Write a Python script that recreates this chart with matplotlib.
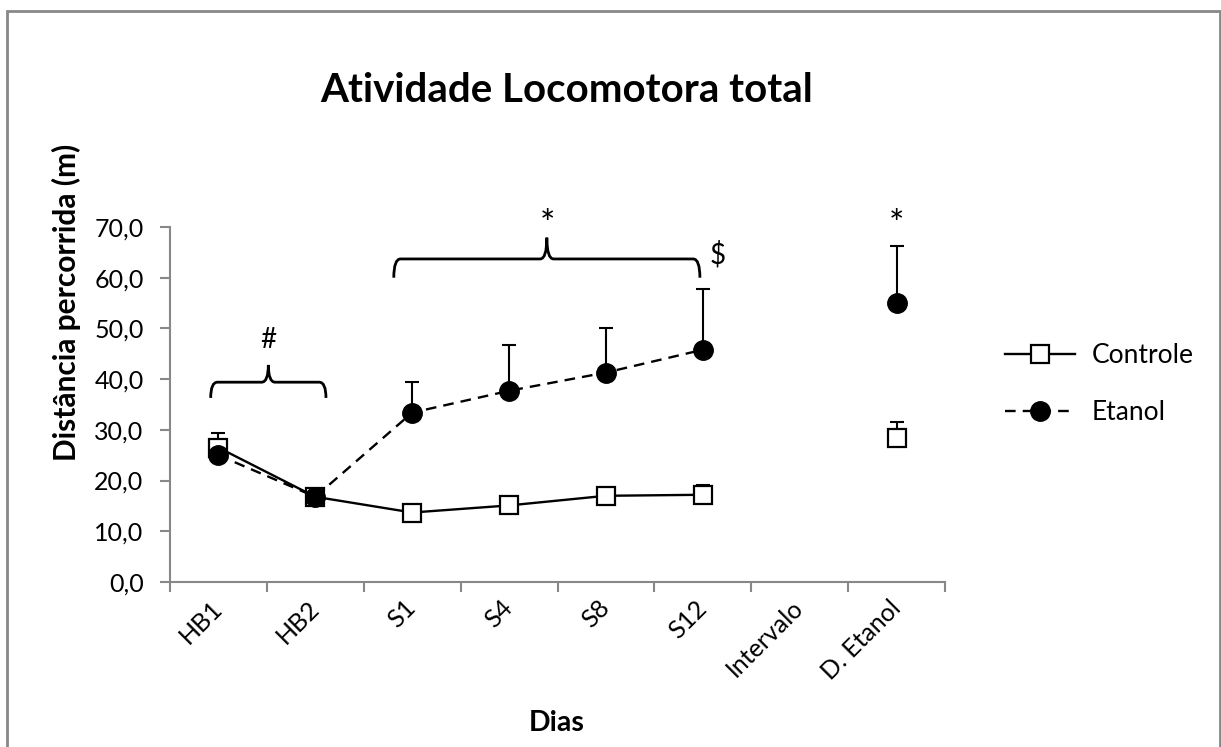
import numpy as np
import matplotlib
matplotlib.use("Agg")
import matplotlib.pyplot as plt
from matplotlib.path import Path
from matplotlib.patches import PathPatch, Rectangle
from matplotlib.lines import Line2D
from matplotlib.transforms import ScaledTranslation

plt.rcParams['font.family'] = ['Lato', 'DejaVu Sans']

categories = ["HB1", "HB2", "S1", "S4", "S8", "S12", "Intervalo", "D. Etanol"]
controle = [26.5, 16.8, 13.7, 15.1, 17.0, 17.2, np.nan, 28.3]
controle_err = [2.9, 0.0, 0.0, 0.0, 0.0, 1.9, 0.0, 3.3]
etanol = [25.0, 16.8, 33.4, 37.7, 41.3, 45.8, np.nan, 55.1]
etanol_err = [0.0, 0.0, 6.1, 9.0, 8.7, 11.9, 0.0, 11.2]
yticks = [0, 10, 20, 30, 40, 50, 60, 70]
ytick_labels = ["0,0", "10,0", "20,0", "30,0", "40,0", "50,0", "60,0", "70,0"]

W, H = 1221, 747
fig = plt.figure(figsize=(W / 100, H / 100), dpi=100)
ax = fig.add_axes([170 / W, 1 - 582 / H, (945 - 170) / W, (582 - 227) / H])

x = np.arange(len(categories))
grey = "#888888"

# error bars (upward only), drawn beneath markers
for vals, errs in ((controle, controle_err), (etanol, etanol_err)):
    v = np.array(vals, dtype=float)
    e = np.array(errs, dtype=float)
    m = (~np.isnan(v)) & (e > 0)
    ax.errorbar(x[m], v[m], yerr=[np.zeros(m.sum()), e[m]], fmt='none',
                ecolor='black', elinewidth=1.5, capsize=5, capthick=1.5, zorder=2)

ax.plot(x, controle, color='black', lw=1.7, marker='s', markersize=13.5,
        markerfacecolor='white', markeredgecolor='black', markeredgewidth=1.6, zorder=3)
ax.plot(x, etanol, color='black', lw=1.7, linestyle=(0, (4.5, 3)), marker='o', markersize=14,
        markerfacecolor='black', markeredgecolor='black', zorder=4)

ax.set_xlim(-0.5, len(categories) - 0.5)
ax.set_ylim(0, 70)
ax.set_yticks(yticks)
ax.set_yticklabels(ytick_labels, fontsize=18)
ax.set_xticks(x)
ax.set_xticklabels(categories, fontsize=18, rotation=45, ha='right', va='center',
                   rotation_mode='anchor')
offset = ScaledTranslation(11 / 100, 0, fig.dpi_scale_trans)
for lab in ax.get_xticklabels():
    lab.set_transform(lab.get_transform() + offset)
ax.set_xticks(np.arange(-0.5, len(categories)), minor=True)
ax.tick_params(axis='x', which='major', length=0, pad=16)
ax.tick_params(axis='x', which='minor', length=7, width=1.5, color=grey, direction='out')
ax.tick_params(axis='y', length=7, width=1.5, color=grey, direction='out', pad=12)
for s in ('top', 'right'):
    ax.spines[s].set_visible(False)
for s in ('left', 'bottom'):
    ax.spines[s].set_color(grey)
    ax.spines[s].set_linewidth(1.5)
ax.patch.set_alpha(0)


def brace(ax, x0, x1, yb, yf, yt, r):
    xm = (x0 + x1) / 2
    verts = [(x0, yb), (x0, yf), (x0 + r, yf),
             (xm - r, yf), (xm, yf), (xm, yt),
             (xm, yf), (xm + r, yf),
             (x1 - r, yf), (x1, yf), (x1, yb)]
    codes = [Path.MOVETO, Path.CURVE3, Path.CURVE3,
             Path.LINETO, Path.CURVE3, Path.CURVE3,
             Path.CURVE3, Path.CURVE3,
             Path.LINETO, Path.CURVE3, Path.CURVE3]
    ax.add_patch(PathPatch(Path(verts, codes), fill=False, lw=2, color='black',
                           clip_on=False, zorder=5))


brace(ax, -0.08, 1.11, 36.3, 39.4, 42.8, 0.07)
brace(ax, 1.81, 4.97, 60.0, 63.7, 67.9, 0.07)
ax.text(0.51, 47.7, "#", ha='center', va='center', fontsize=20, clip_on=False)
ax.text(3.4, 67.0, "*", ha='center', va='bottom', fontsize=26, clip_on=False)
ax.text(5.15, 64.5, "$", ha='center', va='center', fontsize=20, clip_on=False)
ax.text(7.0, 67.0, "*", ha='center', va='bottom', fontsize=26, clip_on=False)

fig.text(567 / W, 1 - 102 / H, "Atividade Locomotora total", ha='center', va='baseline',
         fontsize=29, fontweight='bold')
fig.text(66 / W, 1 - 302 / H, "Distância percorrida (m)", ha='center', va='center',
         rotation=90, fontsize=21.5, fontweight='bold')
fig.text(557 / W, 1 - 731 / H, "Dias", ha='center', va='baseline', fontsize=20.5,
         fontweight='bold')

# legend
h1 = Line2D([], [], color='black', lw=1.7, marker='s', markersize=13.5,
            markerfacecolor='white', markeredgecolor='black', markeredgewidth=1.6)
h2 = Line2D([], [], color='black', lw=1.7, linestyle=(0, (4.5, 3)), marker='o',
            markersize=14, markerfacecolor='black')
fig.legend([h1, h2], ["Controle", "Etanol"], loc='center left',
           bbox_to_anchor=(1005 / W, 1 - 384 / H), frameon=False, fontsize=19,
           handlelength=2.65, handletextpad=0.65, labelspacing=1.2,
           borderpad=0, borderaxespad=0)

# outer chart frame
fig.patches.append(Rectangle((7 / W, -0.05), (1220 - 7) / W, (1 - 11 / H) + 0.05,
                             transform=fig.transFigure, fill=False, edgecolor=grey,
                             lw=2, zorder=0))

fig.savefig("out.png", dpi=100)
